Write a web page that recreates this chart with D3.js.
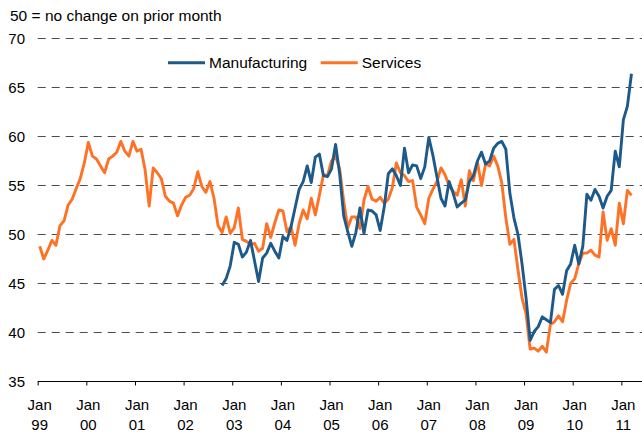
<!DOCTYPE html>
<html>
<head>
<meta charset="utf-8">
<script src="https://cdn.jsdelivr.net/npm/d3@7"></script>
<style>
  html, body { margin: 0; padding: 0; background: #fff; }
  svg { display: block; font-family: "Liberation Sans", Arial, sans-serif; }
</style>
</head>
<body>
<div id="chart"></div>
<script>
/***********************************************
 * Data: monthly PMI readings
 ***********************************************/
// services starts Jan 1999, manufacturing starts Oct 2002
const servicesStart = 0;
const manufacturingStart = 45;

const services = [
  48.8, 47.5, 48.4, 49.4, 48.9, 50.9, 51.4, 53.0, 53.6, 54.7, 55.7, 57.3, // 1999
  59.4, 58.0, 57.7, 57.0, 56.3, 57.7, 58.0, 58.4, 59.5, 58.5, 58.0, 59.5, // 2000
  58.5, 58.7, 56.6, 52.9, 56.8, 56.3, 55.7, 53.9, 53.4, 53.2, 51.9, 53.0, // 2001
  53.8, 54.0, 54.7, 56.4, 54.9, 54.3, 55.4, 53.7, 50.9, 50.2, 51.8, 50.1, // 2002
  50.7, 52.7, 49.5, 49.3, 49.0, 49.1, 48.3, 48.6, 51.1, 49.7, 51.2, 52.5, // 2003
  52.4, 50.3, 50.8, 48.9, 51.1, 52.5, 51.6, 53.7, 52.0, 54.0, 56.1, 56.0, // 2004
  57.5, 58.0, 56.7, 53.4, 50.7, 51.8, 51.8, 50.6, 53.5, 54.9, 53.6, 53.4, // 2005
  53.8, 53.2, 53.6, 54.8, 57.3, 56.3, 56.0, 55.4, 55.5, 52.8, 52.0, 51.1, // 2006
  53.7, 54.6, 55.4, 56.8, 56.1, 55.0, 54.4, 54.0, 55.6, 52.9, 56.5, 55.5, // 2007
  57.4, 55.0, 57.2, 57.0, 58.0, 57.0, 55.3, 51.7, 49.0, 49.5, 46.4, 43.5, // 2008
  41.9, 38.3, 38.4, 38.1, 38.6, 38.0, 40.8, 41.1, 41.7, 41.1, 43.3, 45.0, // 2009
  45.5, 47.0, 48.1, 48.1, 48.4, 47.9, 47.7, 52.3, 49.4, 50.6, 48.9, 53.2, // 2010
  51.1, 54.5, 54.0                                                      // 2011
];

const manufacturing = [
  44.8, 45.5, 46.8,                                                       // 2002
  49.2, 49.0, 47.7, 48.2, 49.4, 47.3, 45.2, 47.6, 48.1, 49.1, 48.3, 47.6, // 2003
  49.8, 49.4, 50.8, 52.7, 54.6, 55.4, 57.0, 55.3, 57.9, 58.2, 56.0, 55.9, // 2004
  56.7, 59.2, 56.2, 51.9, 50.3, 48.8, 50.2, 52.7, 50.1, 52.5, 52.4, 52.0, // 2005
  50.4, 52.8, 56.2, 56.7, 56.0, 55.0, 58.8, 56.3, 57.1, 57.0, 55.7, 56.9, // 2006
  59.9, 58.1, 55.9, 53.7, 52.9, 55.4, 54.2, 52.8, 53.2, 53.5, 55.4, 56.0, // 2007
  57.5, 58.4, 57.2, 57.5, 58.8, 59.3, 59.5, 58.7, 54.2, 51.7, 50.0, 47.0, // 2008
  43.5, 39.2, 40.1, 40.6, 41.6, 41.3, 41.0, 44.4, 44.8, 43.9, 46.3, 47.0, // 2009
  48.9, 47.0, 48.8, 54.1, 53.5, 54.6, 53.9, 52.7, 53.9, 54.5, 58.5, 56.9, // 2010
  61.7, 63.1, 66.4                                                        // 2011
];

const yearLabels = ["99", "00", "01", "02", "03", "04", "05",
                    "06", "07", "08", "09", "10", "11"];
const yTicks = [35, 40, 45, 50, 55, 60, 65, 70];
const seriesNames = ["Manufacturing", "Services"];
const seriesColors = ["#1d5a8a", "#ff7124"];
const subtitle = "50 = no change on prior month";

/***********************************************
 * Layout
 ***********************************************/
const width = 642, height = 434;
const plot = { left: 37.7, right: 642, top: 38.5, bottom: 381.5 };

const svg = d3.select("#chart")
  .append("svg")
  .attr("width", width)
  .attr("height", height);

// months counted from Jan 1999; points sit mid-month
const x = d3.scaleLinear()
  .domain([0, 149.1])
  .range([plot.left, plot.right]);

const y = d3.scaleLinear()
  .domain([35, 70])
  .range([plot.bottom, plot.top]);

/***********************************************
 * Gridlines + y labels
 ***********************************************/
svg.append("g")
  .selectAll("line")
  .data(yTicks.filter(v => v > 35))
  .join("line")
    .attr("x1", plot.left)
    .attr("x2", plot.right)
    .attr("y1", d => y(d))
    .attr("y2", d => y(d))
    .attr("stroke", "#4d4d4d")
    .attr("stroke-width", 1)
    .attr("stroke-dasharray", "8,6");

const yAxis = d3.axisLeft(y)
  .tickValues(yTicks)
  .tickSize(0)
  .tickPadding(0);
svg.append("g")
  .attr("transform", "translate(25,0)")
  .call(yAxis)
  .call(g => g.select(".domain").remove())
  .call(g => g.selectAll(".tick text")
    .attr("font-size", 15)
    .attr("font-family", "Liberation Sans, Arial, sans-serif")
    .attr("fill", "#000"));

/***********************************************
 * X axis: "Jan" over two-digit year
 ***********************************************/
const xAxis = d3.axisBottom(x)
  .tickValues(yearLabels.map((_, i) => i * 12))
  .tickSize(4)
  .tickFormat("");
svg.append("g")
  .attr("transform", `translate(0,${plot.bottom})`)
  .call(xAxis)
  .call(g => g.select(".domain").attr("stroke", "#000").attr("d", `M${plot.left},0H${plot.right}`))
  .call(g => g.selectAll(".tick line").attr("stroke", "#000"));

const xLabels = svg.append("g")
  .selectAll("g")
  .data(yearLabels)
  .join("g")
    .attr("transform", (d, i) => `translate(${x(i * 12) + 2},0)`)
    .attr("font-size", 15)
    .attr("text-anchor", "middle");
xLabels.append("text").attr("y", 410).text("Jan");
xLabels.append("text").attr("y", 430).text(d => d);

/***********************************************
 * Lines
 ***********************************************/
const line = d3.line()
  .x(d => x(d.m + 0.5))
  .y(d => y(d.v));

const seriesData = [
  manufacturing.map((v, i) => ({ m: manufacturingStart + i, v })),
  services.map((v, i) => ({ m: servicesStart + i, v }))
];

// services drawn first so manufacturing sits on top where they cross
[1, 0].forEach(k => {
  svg.append("path")
    .datum(seriesData[k])
    .attr("d", line)
    .attr("fill", "none")
    .attr("stroke", seriesColors[k])
    .attr("stroke-width", 2.9)
    .attr("stroke-linejoin", "round");
});

/***********************************************
 * Legend + subtitle
 ***********************************************/
const legendPos = [168, 320.7];
const legend = svg.append("g")
  .selectAll("g")
  .data(seriesNames)
  .join("g")
    .attr("transform", (d, i) => `translate(${legendPos[i]},62.7)`);
legend.append("line")
  .attr("x1", 0).attr("x2", 37)
  .attr("stroke", (d, i) => seriesColors[i])
  .attr("stroke-width", 2.9);
legend.append("text")
  .attr("x", 41)
  .attr("y", 5.3)
  .attr("font-size", 15.5)
  .text(d => d);

svg.append("text")
  .attr("x", 10)
  .attr("y", 21)
  .attr("font-size", 15.5)
  .text(subtitle);
</script>
</body>
</html>
